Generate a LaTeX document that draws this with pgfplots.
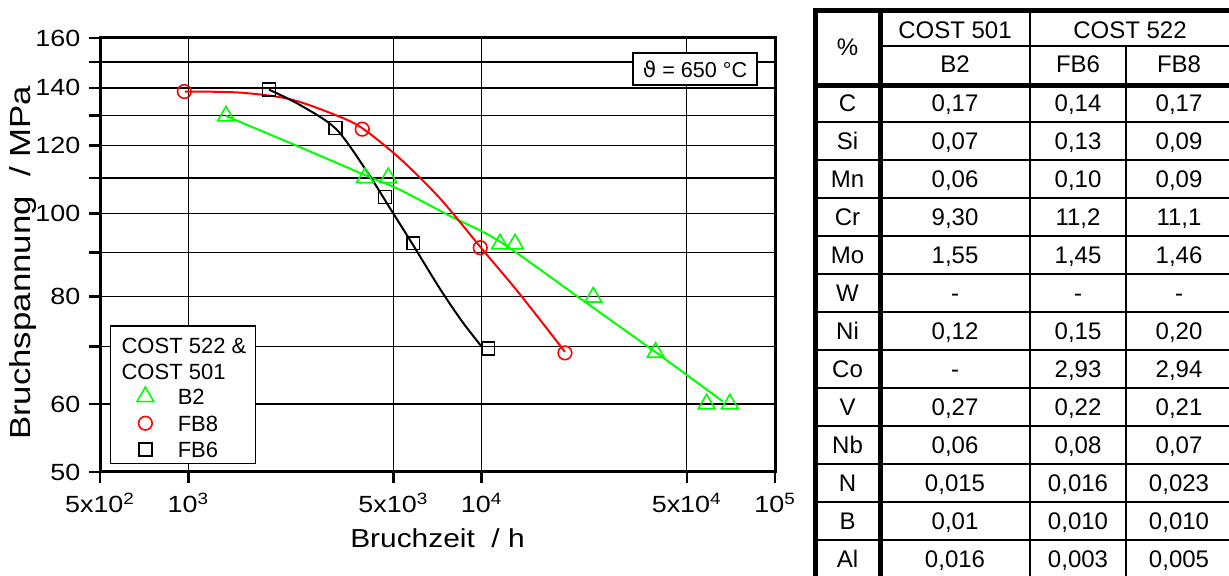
\documentclass[border=0pt]{standalone}
\usepackage{pgfplots}
\pgfplotsset{compat=1.18}
\usepackage{fontspec}
\setmainfont{Liberation Sans}
\newfontfamily\chartfont[FakeStretch=1.15]{Liberation Sans}
\newfontfamily\ylabfont[FakeStretch=1.2]{Liberation Sans}
\newfontfamily\dejavu{DejaVu Sans}
\usetikzlibrary{plotmarks}
\newcommand\trow[5]{%
  \node[anchor=base] at (847.5,{112+38*#1}) {#2};
  \node[anchor=base] at (955,{112+38*#1}) {#3};
  \node[anchor=base] at (1078,{112+38*#1}) {#4};
  \node[anchor=base] at (1179,{112+38*#1}) {#5};}
\begin{document}
\begin{tikzpicture}
\useasboundingbox (0,0) rectangle (614.5pt,288pt);
\begin{axis}[
  at={(50pt,52pt)}, anchor=south west,
  scale only axis, width=337.5pt, height=217pt,
  xmode=log, ymode=log,
  xmin=500, xmax=100000, ymin=50, ymax=160,
  xtick={500,1000,5000,10000,50000,100000},
  xticklabels={5x10\textsuperscript{2},10\textsuperscript{3},5x10\textsuperscript{3},10\textsuperscript{4},5x10\textsuperscript{4},10\textsuperscript{5}},
  ytick={50,60,70,80,90,100,110,120,130,140,150,160},
  yticklabels={50,60,,80,,100,,120,,140,,160},
  minor tick num=0,
  grid=major,
  major grid style={black, line width=0.75pt},
  axis line style={black, line width=1.5pt},
  tick style={black, line width=1.2pt},
  major tick length=5.3pt,
  tick align=outside,
  tick pos=left,
  xticklabel style={font=\chartfont\fontsize{11.7}{13}\selectfont, anchor=base, inner sep=0pt, yshift=-15.2pt},
  yticklabel style={font=\chartfont\fontsize{11.7}{13}\selectfont, anchor=east, inner sep=0pt, xshift=-4.4pt},
  xlabel={Bruchzeit\ \ / h},
  ylabel={Bruchspannung\ \ / MPa},
  xlabel style={font=\chartfont\fontsize{13}{15}\selectfont, at={(axis description cs:0.5,-0.1751)}, anchor=base},
  ylabel style={font=\ylabfont\fontsize{14.5}{17}\selectfont, at={(axis description cs:-0.1023,0.4816)}, anchor=base},
  legend cell align=left,
  legend style={at={(0.0148,0.0184)}, anchor=south west, draw=black, line width=0.6pt, fill=white,
     inner xsep=4.7pt, inner ysep=2.5pt, row sep=1.63pt, column sep=3.5pt,
     font=\fontsize{11}{13}\selectfont, cells={anchor=base west},
     nodes={inner sep=0pt, text height=11.2pt, text depth=0pt}},
  legend image code/.code={\path (0pt,0pt) (24.6pt,7pt);
     \draw[mark repeat=2,mark phase=2,#1] plot coordinates {(0pt,3.95pt)(12.3pt,3.95pt)(24.6pt,3.95pt)};},
]
\addlegendimage{empty legend}\addlegendentry{\hspace{-28.1pt}COST 522 \&}
\addlegendimage{empty legend}\addlegendentry{\hspace{-28.1pt}COST 501}
% fitted curves
\addplot[green, line width=1pt, smooth, forget plot] coordinates {
(1344,129.8) (2403,119.4) (4000,110.8) (5266,106.5) (7796,99.3) (11545,92.7) (22490,78.9) (39480,68.8) (66440,60.4)};
\addplot[red, line width=1pt, smooth, forget plot] coordinates {
(974,138.6) (1501,138.2) (2221,135.8) (3162,130.2) (3908,125.7) (5266,115.8) (7208,104.1) (9945,91.2) (13505,80.5) (19225,69.0)};
\addplot[black, line width=1pt, smooth, forget plot] coordinates {
(1884,139.3) (2403,133.7) (3187,125.4) (4033,112.3) (4868,101.4) (5832,91.9) (7208,81.7) (8566,74.9) (10020,69.9)};
% measured points
\addplot[only marks, green, mark=triangle, mark size=4.85pt, line width=0.8pt, mark options={fill=white}] coordinates {
(1344,129.8) (4000,110.0) (4805,110.0) (11545,92.1) (12990,92.1) (24010,79.9) (39170,68.9) (58460,60.0) (70150,60.0)};
\addlegendentry{B2}
\addplot[only marks, red, mark=o, mark size=3.4pt, line width=0.8pt, mark options={fill=white}] coordinates {
(969,138.6) (3917,125.3) (9890,91.2) (19230,68.8)};
\addlegendentry{FB8}
\addplot[only marks, black, mark=square, mark size=3.2pt, line width=0.8pt, mark options={fill=white}] coordinates {
(1884,139.3) (3179,125.7) (4681,104.5) (5847,92.3) (10530,69.6)};
\addlegendentry{FB6}
\end{axis}
\node[draw=black, line width=0.6pt, fill=white, inner sep=0pt, minimum width=62pt, minimum height=16pt, font=\fontsize{10.8}{12}\selectfont] at (347.5pt,253.5pt) {{\dejavu ϑ} = 650 °C};
% composition table
\begin{scope}[x=0.5pt, y=-0.5pt, yshift=288pt, font=\fontsize{12}{14}\selectfont]
  \draw[line width=1pt] (880,46.5) -- (1240,46.5);
  \draw[line width=1pt] (1030,11) -- (1030,590);
  \draw[line width=1pt] (1126,46.5) -- (1126,590);
  \foreach \k in {1,...,12} {\draw[line width=1pt] (815,{84+38*\k}) -- (1240,{84+38*\k});}
  \draw[line width=2.5pt] (1240,11) -- (815,11) -- (815,590);
  \draw[line width=2.5pt] (880,11) -- (880,590);
  \draw[line width=2.5pt] (815,85.5) -- (1240,85.5);
  \node[anchor=base] at (847.5,56) {\%};
  \node[anchor=base] at (955,38.5) {COST 501};
  \node[anchor=base] at (1130,38.5) {COST 522};
  \node[anchor=base] at (955,73) {B2};
  \node[anchor=base] at (1078,73) {FB6};
  \node[anchor=base] at (1179,73) {FB8};
  \trow{0}{C}{0,17}{0,14}{0,17}
  \trow{1}{Si}{0,07}{0,13}{0,09}
  \trow{2}{Mn}{0,06}{0,10}{0,09}
  \trow{3}{Cr}{9,30}{11,2}{11,1}
  \trow{4}{Mo}{1,55}{1,45}{1,46}
  \trow{5}{W}{-}{-}{-}
  \trow{6}{Ni}{0,12}{0,15}{0,20}
  \trow{7}{Co}{-}{2,93}{2,94}
  \trow{8}{V}{0,27}{0,22}{0,21}
  \trow{9}{Nb}{0,06}{0,08}{0,07}
  \trow{10}{N}{0,015}{0,016}{0,023}
  \trow{11}{B}{0,01}{0,010}{0,010}
  \trow{12}{Al}{0,016}{0,003}{0,005}
\end{scope}
\end{tikzpicture}
\end{document}
